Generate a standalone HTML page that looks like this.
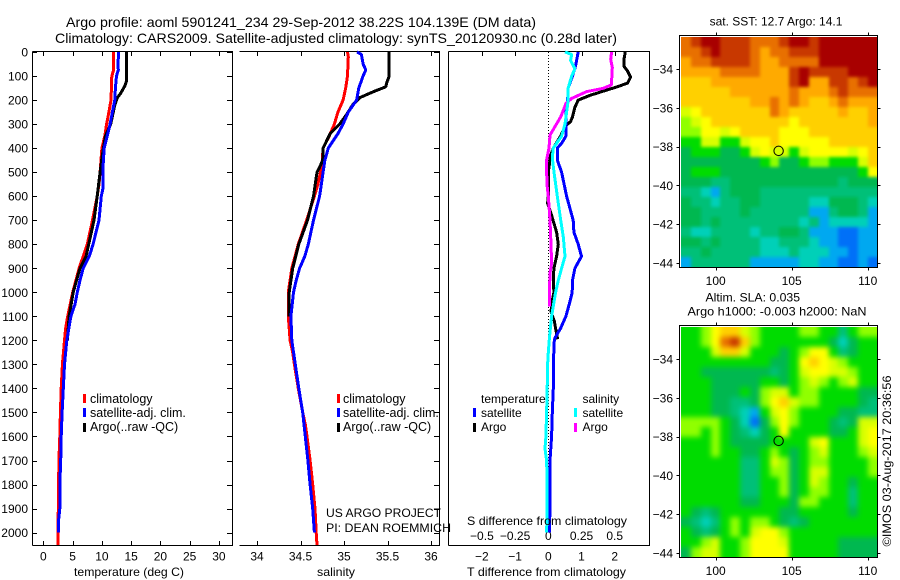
<!DOCTYPE html>
<html lang="en">
<head>
<meta charset="utf-8">
<title>Argo profile 5901241_234</title>
<style>
html,body{margin:0;padding:0;background:#fff}
svg{display:block}
text{font-family:"Liberation Sans",sans-serif;font-size:12px;fill:#000}
.t14{font-size:14px}
.leg text{font-size:12.5px}
</style>
</head>
<body>
<svg id="chart" xmlns="http://www.w3.org/2000/svg" width="900" height="580" viewBox="0 0 900 580">
<defs>
<filter id="soft-sst" x="-10%" y="-10%" width="120%" height="120%" color-interpolation-filters="sRGB">
<feGaussianBlur stdDeviation="1.6"/>
<feComponentTransfer><feFuncA type="linear" slope="100"/></feComponentTransfer>
</filter>
<filter id="soft-sla" x="-10%" y="-10%" width="120%" height="120%" color-interpolation-filters="sRGB">
<feGaussianBlur stdDeviation="2.6"/>
<feComponentTransfer><feFuncA type="linear" slope="100"/></feComponentTransfer>
</filter>
<clipPath id="clip-m1"><rect x="681" y="37" width="197" height="230"/></clipPath>
<clipPath id="clip-m2"><rect x="681" y="327" width="197" height="230"/></clipPath>
</defs>
<rect x="0" y="0" width="900" height="580" fill="#fff"/>
<text class="t14" x="66" y="27" textLength="470" lengthAdjust="spacingAndGlyphs">Argo profile: aoml 5901241_234 29-Sep-2012 38.22S 104.139E (DM data)</text>
<text class="t14" x="55" y="43" textLength="562" lengthAdjust="spacingAndGlyphs">Climatology: CARS2009. Satellite-adjusted climatology: synTS_20120930.nc (0.28d later)</text>

<g id="p1"></g>
<g id="p2"></g>
<g id="p3"></g>
<g id="m1"></g>
<g id="m2"></g>

<text x="74" y="576" textLength="110" lengthAdjust="spacingAndGlyphs">temperature (deg C)</text>
<text x="317" y="576" textLength="38" lengthAdjust="spacingAndGlyphs">salinity</text>
<text x="467" y="576" textLength="159" lengthAdjust="spacingAndGlyphs">T difference from climatology</text>
<text x="467" y="525" textLength="160" lengthAdjust="spacingAndGlyphs">S difference from climatology</text>

<g class="leg">
<rect x="83" y="394" width="3" height="9" fill="#f00"/>
<rect x="83" y="408" width="3" height="9" fill="#00f"/>
<rect x="83" y="423" width="3" height="9" fill="#000"/>
<text x="90" y="403">climatology</text>
<text x="90" y="417">satellite-adj. clim.</text>
<text x="90" y="431">Argo(..raw -QC)</text>
</g>
<g class="leg">
<rect x="337" y="394" width="3" height="9" fill="#f00"/>
<rect x="337" y="408" width="3" height="9" fill="#00f"/>
<rect x="337" y="423" width="3" height="9" fill="#000"/>
<text x="343" y="403">climatology</text>
<text x="343" y="417">satellite-adj. clim.</text>
<text x="343" y="431">Argo(..raw -QC)</text>
</g>
<g>
<text x="481" y="403">temperature</text>
<rect x="473" y="408" width="3" height="9" fill="#00f"/>
<rect x="473" y="423" width="3" height="9" fill="#000"/>
<text x="481" y="417">satellite</text>
<text x="481" y="431">Argo</text>
<text x="582.5" y="403">salinity</text>
<rect x="574" y="408" width="3" height="9" fill="#0ff"/>
<rect x="574" y="423" width="3" height="9" fill="#f0f"/>
<text x="582.5" y="417">satellite</text>
<text x="582.5" y="431">Argo</text>
</g>
<text x="326" y="517" textLength="115" lengthAdjust="spacingAndGlyphs">US ARGO PROJECT</text>
<text x="326" y="532" textLength="125" lengthAdjust="spacingAndGlyphs">PI: DEAN ROEMMICH</text>

<text x="776" y="25.5" text-anchor="middle">sat. SST: 12.7 Argo: 14.1</text>
<text x="705.5" y="301.5" textLength="94.5" lengthAdjust="spacingAndGlyphs">Altim. SLA: 0.035</text>
<text x="687.5" y="315.5" textLength="179" lengthAdjust="spacingAndGlyphs">Argo h1000: -0.003 h2000: NaN</text>
<text transform="translate(891 546.5) rotate(-90)" textLength="171" lengthAdjust="spacingAndGlyphs">©IMOS 03-Aug-2017 20:36:56</text>
</svg>

<script>
// ---------- profile data ----------
const depthTicks = [0,100,200,300,400,500,600,700,800,900,1000,1100,1200,1300,1400,1500,1600,1700,1800,1900,2000];
const tempTicks = [0,5,10,15,20,25,30];
const salTicks = [34,34.5,35,35.5,36];
const salTickLabels = ['34','34.5','35','35.5','36'];
const diffTTicks = [-2,-1,0,1,2];
const diffTTickLabels = ['\u22122','\u22121','0','1','2'];
const diffSTicks = [-0.5,-0.25,0,0.25,0.5];
const diffSTickLabels = ['\u22120.5','\u22120.25','0','0.25','0.5'];

const tempClimDepth = [0,80,100,200,250,300,350,400,500,550,600,700,800,900,1000,1100,1150,1200,1300,1400,1500,1600,1700,1800,2000,2052];
const tempClim = [11.95,11.95,11.7,11.55,11.2,10.8,10.5,10.0,9.7,9.5,9.2,8.4,7.5,6.1,5.0,4.15,3.8,3.6,3.25,3.05,2.9,2.8,2.65,2.6,2.5,2.5];
const tempSatDepth = [0,50,75,100,150,200,250,300,350,400,450,500,570,600,700,800,850,900,950,1000,1050,1100,1200,1300,1400,1500,1600,1700,1800,1900,1960,2000];
const tempSat = [12.85,12.75,12.8,12.5,12.3,12.2,11.8,11.4,10.9,10.4,10.25,10.15,10.15,9.9,9.5,8.5,7.85,6.8,6.25,5.8,5.4,4.7,4.0,3.6,3.4,3.2,3.05,2.95,2.8,2.8,2.55,2.55];
const tempArgoDepth = [0,120,140,170,190,220,300,350,400,450,500,600,700,800,850,900,1000,1100,1200];
const tempArgo = [14.2,14.2,13.95,13.25,12.65,12.2,11.5,10.6,10.25,9.95,9.7,9.2,8.65,7.75,7.3,6.25,5.1,4.4,4.1];

const salClimDepth = [0,20,100,150,200,250,300,350,400,450,500,550,600,700,800,900,1000,1100,1200,1250,1300,1400,1500,1550,1600,1700,1800,1900,2000,2052];
const salClim = [35.04,35.05,35.04,35.02,34.99,34.93,34.89,34.83,34.76,34.75,34.73,34.7,34.66,34.57,34.475,34.4,34.36,34.36,34.38,34.41,34.43,34.475,34.525,34.555,34.575,34.61,34.64,34.667,34.68,34.69];
const salSatDepth = [0,10,50,75,100,150,200,250,300,340,400,450,500,600,700,800,850,900,950,1000,1100,1200,1300,1400,1500,1600,1700,1800,1900,2000];
const salSat = [35.15,35.2,35.22,35.25,35.22,35.17,35.145,35.05,34.99,34.93,34.82,34.78,34.76,34.72,34.65,34.59,34.55,34.49,34.45,34.42,34.39,34.4,34.44,34.48,34.525,34.555,34.585,34.61,34.64,34.66];
const salArgoDepth = [0,100,130,145,165,190,220,260,300,340,370,400,450,480,500,600,700,800,900,1000,1100];
const salArgo = [35.52,35.52,35.49,35.48,35.34,35.18,35.1,35.03,34.95,34.84,34.8,34.76,34.755,34.72,34.69,34.65,34.58,34.48,34.41,34.37,34.37];

const dTSatDepth = [0,50,67,100,150,200,250,350,380,400,450,500,600,700,750,800,850,900,950,1000,1050,1100,1150,1190,1200,1300,1400,1500,1600,1700,1800,1900,2000];
const dTSat = [0.9,0.83,0.8,0.73,0.6,0.58,0.53,0.53,0.4,0.27,0.27,0.4,0.55,0.75,0.77,0.9,1.0,0.8,0.73,0.72,0.63,0.53,0.37,0.2,0.18,0.15,0.15,0.12,0.1,0.05,0.05,0.05,0.03];
const dTArgoDepth = [0,30,60,80,105,130,150,180,200,230,270,290,310,350,400,430,500,600,630,680,750,800,850,900,950,1000,1040,1080,1120,1150,1195];
const dTArgo = [2.32,2.28,2.28,2.39,2.48,2.39,1.96,1.26,0.9,0.8,0.73,0.67,0.5,0.37,0.15,0.07,0,0,-0.02,0.1,0.25,0.3,0.25,0.17,0.15,0.17,0.11,0.08,0.18,0.22,0.28];
const dSSatDepth = [0,10,35,70,100,150,200,250,300,350,400,440,500,600,700,770,850,900,950,1000,1040,1100,1190,1250,1300,1400,1500,1600,1650,1700,1800,1900,2000];
const dSSat = [0.126,0.176,0.168,0.2,0.176,0.15,0.15,0.138,0.126,0.1,0.038,0.03,0.043,0.068,0.093,0.113,0.126,0.1,0.075,0.055,0.043,0.025,0.008,0,-0.005,-0.008,-0.013,-0.018,-0.025,-0.013,-0.008,-0.008,-0.013];
const dSArgoDepth = [0,30,65,137,151,165,193,214,270,311,346,400,450,500,560,600,700,800,880,920,1000,1060];
const dSArgo = [0.477,0.47,0.482,0.475,0.415,0.289,0.176,0.133,0.093,0.05,0.013,0.005,-0.013,-0.013,-0.008,0,0.013,0.02,0.025,0.013,0.008,0.008];

// ---------- map data (colour level per cell, top row = north) ----------
const mapLonTicks = [100,105,110];
const mapLatTicks = [34,36,38,40,42,44];
const argoLon = 104.139;
const argoLat = 38.22;
const sstLevels = [
[11,12,13,13,12,12,12,11,11,11,12,13,13,12,13,13,13,13,13,13],
[11,11,12,13,12,12,12,11,10,11,11,12,12,12,13,13,13,13,13,13],
[10,11,11,12,12,12,12,11,10,10,11,11,11,11,13,13,13,13,13,13],
[10,10,10,10,11,11,11,11,10,10,10,12,13,12,12,12,12,13,13,13],
[9,9,9,10,10,10,10,10,10,10,10,12,13,10,10,12,12,11,12,13],
[9,9,9,9,9,10,10,10,10,10,10,11,10,10,10,11,12,11,11,11],
[9,9,9,9,9,9,9,10,10,11,10,11,10,9,9,10,11,10,10,10],
[7,8,9,9,9,9,9,9,9,11,10,9,9,9,9,9,10,9,9,10],
[6,7,8,9,9,9,9,9,9,9,9,8,9,9,9,9,9,9,9,10],
[6,6,8,8,7,8,9,9,9,9,8,8,8,9,9,9,9,9,9,9],
[5,5,7,7,5,5,7,8,8,9,8,8,8,8,8,9,9,9,9,9],
[4,5,5,5,4,4,5,7,8,7,7,5,7,8,8,8,8,7,8,9],
[4,4,4,4,4,4,4,4,5,6,4,4,5,6,6,5,5,5,7,9],
[4,5,5,5,4,4,4,4,4,4,4,4,4,4,4,4,4,4,5,8],
[4,4,4,3,3,4,4,4,4,4,4,4,4,4,4,4,3,4,4,4],
[3,3,2,1,3,4,4,4,3,3,3,3,3,3,3,3,3,3,3,3],
[4,3,3,2,3,3,4,4,3,3,3,3,3,2,2,4,4,4,3,2],
[4,4,3,3,3,3,4,3,3,3,3,3,3,1,1,3,4,4,3,1],
[4,4,3,4,3,3,3,3,3,3,3,3,2,3,1,2,2,2,2,1],
[3,2,2,3,3,3,3,2,3,3,4,4,3,1,1,1,0,0,1,1],
[4,4,3,4,3,3,3,3,2,2,3,3,3,2,1,1,0,0,1,1],
[3,3,4,3,3,3,3,3,2,2,2,3,2,2,2,1,1,0,1,1],
[1,3,3,3,3,3,3,1,1,1,1,1,2,2,1,1,0,0,1,0]
];
const slaLevels = [
[5,5,6,8,9,9,7,6,5,5,5,5,6,6,5,5,3,5,6,6],
[5,5,6,8,11,12,9,6,5,5,5,5,5,5,5,4,2,4,5,5],
[5,5,5,7,9,9,7,5,5,5,4,5,6,8,8,5,3,4,5,5],
[5,5,5,5,5,5,5,5,5,4,4,5,8,9,8,7,6,5,5,5],
[5,5,4,4,4,4,4,4,4,3,4,5,7,8,8,7,7,6,5,5],
[5,5,5,4,4,4,4,4,5,5,4,5,6,7,6,5,6,7,5,5],
[5,5,5,4,4,4,5,4,6,7,7,5,6,6,5,5,5,5,4,4],
[5,5,5,4,4,3,3,4,6,8,9,7,6,6,5,5,5,5,4,3],
[5,5,5,4,4,3,2,1,5,7,8,6,5,5,5,5,4,4,3,3],
[6,6,6,6,5,4,2,0,4,6,8,6,5,5,5,4,3,4,7,7],
[6,6,5,6,5,4,3,2,4,5,8,5,5,5,5,4,4,5,7,8],
[5,5,5,6,5,4,4,4,4,5,5,5,5,7,8,5,5,5,7,8],
[5,5,5,6,5,5,4,4,5,6,5,4,5,6,7,5,5,5,6,7],
[5,5,5,5,5,5,3,3,5,7,6,4,5,6,6,5,5,5,5,6],
[5,5,5,5,5,5,3,3,5,6,6,4,5,7,7,5,5,5,5,6],
[5,5,5,5,5,5,3,3,5,5,6,4,5,7,6,5,5,4,5,5],
[5,5,5,5,5,5,3,3,5,5,6,4,5,6,6,5,5,3,5,5],
[5,5,5,5,5,5,4,4,5,5,5,4,6,6,5,5,5,3,5,5],
[5,4,3,4,5,5,5,5,5,5,4,4,5,5,5,5,5,4,5,5],
[4,3,2,3,5,6,5,6,6,5,4,3,4,5,5,5,5,5,5,5],
[5,4,3,4,5,6,5,7,8,8,6,5,5,5,5,5,5,5,5,5],
[5,5,6,7,5,5,6,8,8,8,7,5,5,5,5,5,4,4,4,4],
[4,6,7,7,5,5,6,8,8,8,8,5,5,5,5,5,4,4,4,4]
];

// ---------- drawing ----------
const NS = 'http://www.w3.org/2000/svg';
const levelColor = ['#0070f8','#00a8f0','#00d0b8','#00c078','#00b850','#00dc00','#90ff00','#d8ff00','#ffff00','#ffd000','#ffaa00','#e87000','#c83800','#a80000'];
const yDepth = d => 52 + d * 0.2403;
const xTemp = v => 43.4 + v * 5.85;
const xSal = v => 257 + (v - 34) * 87;
const xDT = v => 548.3 + v * 33.2;
const xDS = v => 548.3 + v * 132.8;

function node(parent, tag, attrs, txt) {
  const el = document.createElementNS(NS, tag);
  for (const k in attrs) el.setAttribute(k, attrs[k]);
  if (txt !== undefined) el.textContent = txt;
  parent.appendChild(el);
  return el;
}
function hline(parent, x1, x2, y) {
  return node(parent, 'line', {x1: x1, x2: x2, y1: y, y2: y, stroke: '#000', 'stroke-width': 1, 'shape-rendering': 'crispEdges'});
}
function vline(parent, x, y1, y2) {
  return node(parent, 'line', {x1: x, x2: x, y1: y1, y2: y2, stroke: '#000', 'stroke-width': 1, 'shape-rendering': 'crispEdges'});
}
function profile(parent, name, depths, vals, xf, color) {
  const pts = vals.map((v, i) => xf(v).toFixed(1) + ',' + yDepth(depths[i]).toFixed(1)).join(' ');
  const el = node(parent, 'polyline', {points: pts, fill: 'none', stroke: color, 'stroke-width': 3, 'stroke-linejoin': 'bevel', 'shape-rendering': 'crispEdges'});
  
  
}
function frame(parent, l, r, hasLeft) {
  const t = 51.5, b = 545.5;
  const top = hline(parent, l, r + 0.5, t);
  
  
  const bottom = hline(parent, l, r + 0.5, b);
  
  
  const right = vline(parent, r, t, b);
  
  
  if (hasLeft) {
    const left = vline(parent, l, t, b);
    
    
  }
}
function xTicks(parent, ticks, labels, xf, bottomTicks) {
  ticks.forEach((v, i) => {
    const x = Math.round(xf(v)) + 0.5;
    const t1 = vline(parent, x, 51.5, 56);
    
    
    if (bottomTicks) {
      const t2 = vline(parent, x, 541, 545.5);
      
      
    }
    const tx = node(parent, 'text', {x: xf(v), y: 560.5, 'text-anchor': 'middle'}, labels[i]);
    
    
  });
}

// temperature panel
const p1 = document.getElementById('p1');
frame(p1, 32.5, 232.5, true);
xTicks(p1, tempTicks, tempTicks.map(String), xTemp, true);
depthTicks.forEach(d => {
  const y = Math.round(yDepth(d)) + 0.5;
  const a = hline(p1, 32.5, 37, y);
  
  
  const b = hline(p1, 227, 232.5, y);
  
  
  const c = hline(document.getElementById('p2'), 434, 439.5, y);
  
  
  const tx = node(p1, 'text', {x: 28, y: yDepth(d) + 4.5, 'text-anchor': 'end'}, String(d));
  
  
});
profile(p1, 'temperature-climatology-line', tempClimDepth, tempClim, xTemp, '#f00');
profile(p1, 'temperature-argo-line', tempArgoDepth, tempArgo, xTemp, '#000');
profile(p1, 'temperature-satellite-line', tempSatDepth, tempSat, xTemp, '#00f');

// salinity panel
const p2 = document.getElementById('p2');
frame(p2, 239.5, 439.5, false);
xTicks(p2, salTicks, salTickLabels, xSal, true);
profile(p2, 'salinity-climatology-line', salClimDepth, salClim, xSal, '#f00');
profile(p2, 'salinity-argo-line', salArgoDepth, salArgo, xSal, '#000');
profile(p2, 'salinity-satellite-line', salSatDepth, salSat, xSal, '#00f');

// difference panel
const p3 = document.getElementById('p3');
frame(p3, 448.5, 649.5, true);
diffTTicks.forEach((v, i) => {
  if (v !== 0) {
    const t = vline(p3, Math.round(xDT(v)) + 0.5, 51.5, 56);
    
    
  }
  const tx = node(p3, 'text', {x: xDT(v), y: 560.5, 'text-anchor': 'middle'}, diffTTickLabels[i]);
  
  
});
diffSTicks.forEach((v, i) => {
  const tx = node(p3, 'text', {x: xDS(v), y: 540, 'text-anchor': 'middle'}, diffSTickLabels[i]);
  
  
});
const zeroLine = node(p3, 'line', {x1: 548.5, x2: 548.5, y1: 52, y2: yDepth(2000), stroke: '#000', 'stroke-width': 1, 'stroke-dasharray': '1 2', 'shape-rendering': 'crispEdges'});


profile(p3, 't-difference-argo-line', dTArgoDepth, dTArgo, xDT, '#000');
profile(p3, 't-difference-satellite-line', dTSatDepth, dTSat, xDT, '#00f');
profile(p3, 's-difference-argo-line', dSArgoDepth, dSArgo, xDS, '#f0f');
profile(p3, 's-difference-satellite-line', dSSatDepth, dSSat, xDS, '#0ff');

// maps
function drawMap(id, levels, y0, softId) {
  const g = document.getElementById(id);
  const xLon = lon => 715.7 + (lon - 100) * 15.2;
  const yLat = lat => y0 + 69 + (lat - 34) * 19.4;
  const lonMin = 97.72, lonMax = 110.66, latMin = 32.33, latMax = 44.2;
  const nr = levels.length, nc = levels[0].length;
  const clip = node(g, 'g', {'clip-path': 'url(#clip-' + id + ')'});
  
  
  const cells = node(clip, 'g', {filter: 'url(#' + softId + ')'});
  
  
  levels.forEach((row, r) => {
    row.forEach((lv, c) => {
      const x1 = Math.round(xLon(lonMin + (lonMax - lonMin) * c / nc));
      const x2 = Math.round(xLon(lonMin + (lonMax - lonMin) * (c + 1) / nc));
      const y1 = Math.round(yLat(latMin + (latMax - latMin) * r / nr));
      const y2 = Math.round(yLat(latMin + (latMax - latMin) * (r + 1) / nr));
      const cell = node(cells, 'rect', {x: x1, y: y1, width: x2 - x1, height: y2 - y1, fill: levelColor[lv], 'shape-rendering': 'crispEdges'});
      
      
    });
  });
  const l = 679.5, r = 877.5, t = y0 + 35.5, b = y0 + 267.5;
  const box = node(g, 'rect', {x: l, y: t, width: r - l, height: b - t, fill: 'none', stroke: '#000', 'stroke-width': 1, 'shape-rendering': 'crispEdges'});
  
  
  mapLonTicks.forEach(lon => {
    const x = Math.round(xLon(lon)) + 0.5;
    const a = vline(g, x, t - 3, t);
    
    
    const c = vline(g, x, b, b + 3);
    
    
    const tx = node(g, 'text', {x: xLon(lon), y: y0 + 285, 'text-anchor': 'middle'}, String(lon));
    
    
  });
  mapLatTicks.forEach(lat => {
    const y = Math.round(yLat(lat)) + 0.5;
    const a = hline(g, l - 3, l, y);
    
    
    const c = hline(g, r, r + 3, y);
    
    
    const tx = node(g, 'text', {x: 673, y: yLat(lat) + 4.5, 'text-anchor': 'end'}, '\u2212' + lat);
    
    
  });
  const mark = node(g, 'circle', {cx: xLon(argoLon), cy: yLat(argoLat), r: 4.7, fill: 'none', stroke: '#000', 'stroke-width': 1});
  
  
}
drawMap('m1', sstLevels, 0, 'soft-sst');
drawMap('m2', slaLevels, 290, 'soft-sla');
</script>
</body>
</html>
